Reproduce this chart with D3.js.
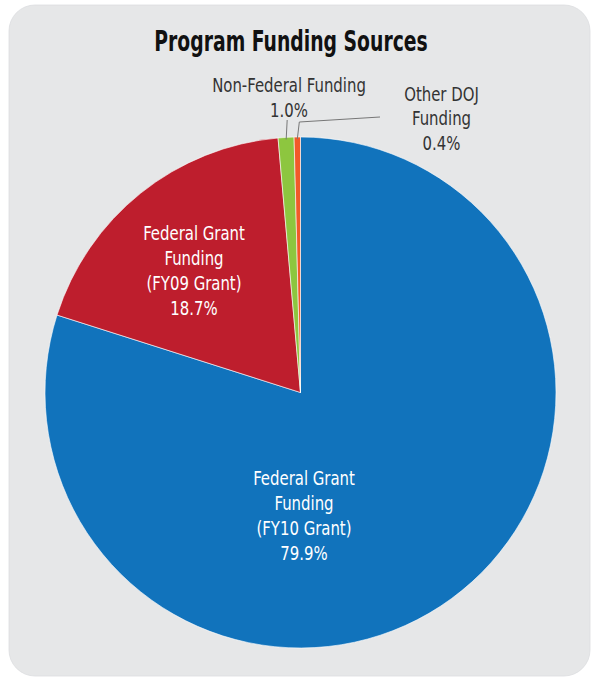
<!DOCTYPE html>
<html><head><meta charset="utf-8">
<script src="https://cdn.jsdelivr.net/npm/d3@7"></script>
<style>html,body{margin:0;padding:0;background:#fff;}</style>
</head><body>
<svg id="c" width="595" height="677"></svg>
<script>
const categories = ["Federal Grant Funding (FY10 Grant)", "Federal Grant Funding (FY09 Grant)", "Non-Federal Funding", "Other DOJ Funding"];
const values = [79.9, 18.7, 1.0, 0.4];
const colors = ["#1173bc", "#be1e2d", "#8dc63f", "#f15a29"];
const labelLines = [
  ["Federal Grant", "Funding", "(FY10 Grant)", "79.9%"],
  ["Federal Grant", "Funding", "(FY09 Grant)", "18.7%"],
  ["Non-Federal Funding", "1.0%"],
  ["Other DOJ", "Funding", "0.4%"]
];
const title = "Program Funding Sources";

const svg = d3.select("#c");
const FONT = "'DejaVu Sans Condensed','DejaVu Sans',sans-serif";

svg.append("rect").attr("x", 9).attr("y", 5).attr("width", 581).attr("height", 671)
  .attr("rx", 26).attr("ry", 26).attr("fill", "#e6e7e8").attr("stroke", "#dcdddf").attr("stroke-width", 0.8);

svg.append("g").attr("transform", "translate(291,51) scale(0.76,1)")
  .append("text").attr("x", 0).attr("y", 0).attr("text-anchor", "middle")
  .attr("font-family", FONT).attr("font-weight", "bold").attr("font-size", 27.5)
  .attr("fill", "#111").text(title);

const cx = 300.5, cy = 392.5, R = 255.5;
const pie = d3.pie().sort(null).value(d => d)(values);
const arc = d3.arc().innerRadius(0).outerRadius(R);
const g = svg.append("g").attr("transform", `translate(${cx},${cy})`);
g.selectAll("path").data(pie).join("path")
  .attr("d", arc).attr("fill", (d, i) => colors[i])
  .attr("stroke", "#fff").attr("stroke-width", 0.6);

function addLabel(lines, x, y0, color, dy) {
  const t = svg.append("g").attr("transform", `translate(${x},${y0}) scale(0.85,1)`)
    .append("text").attr("text-anchor", "middle")
    .attr("font-family", FONT).attr("font-size", 19.5).attr("fill", color);
  lines.forEach((l, i) => t.append("tspan").attr("x", 0).attr("y", i * dy).text(l));
}
addLabel(labelLines[0], 304, 485, "#fff", 25);
addLabel(labelLines[1], 194, 240, "#fff", 25);
addLabel(labelLines[2], 289, 92, "#333", 25);
addLabel(labelLines[3], 441.5, 101, "#333", 24.5);

// leader lines
const pt = (a, r) => [cx + r * Math.sin(a), cy - r * Math.cos(a)];
const gMid = (pie[2].startAngle + pie[2].endAngle) / 2;
const oMid = (pie[3].startAngle + pie[3].endAngle) / 2;
const g0 = pt(gMid, R - 2);
svg.append("path").attr("d", `M${g0[0]},${g0[1]} L${g0[0] + 1},120`)
  .attr("fill", "none").attr("stroke", "#777").attr("stroke-width", 1);
const o0 = pt(oMid, R - 2);
svg.append("path").attr("d", `M${o0[0]},${o0[1]} L${o0[0] + 2},122 L380,117`)
  .attr("fill", "none").attr("stroke", "#777").attr("stroke-width", 1);
</script>
</body></html>
